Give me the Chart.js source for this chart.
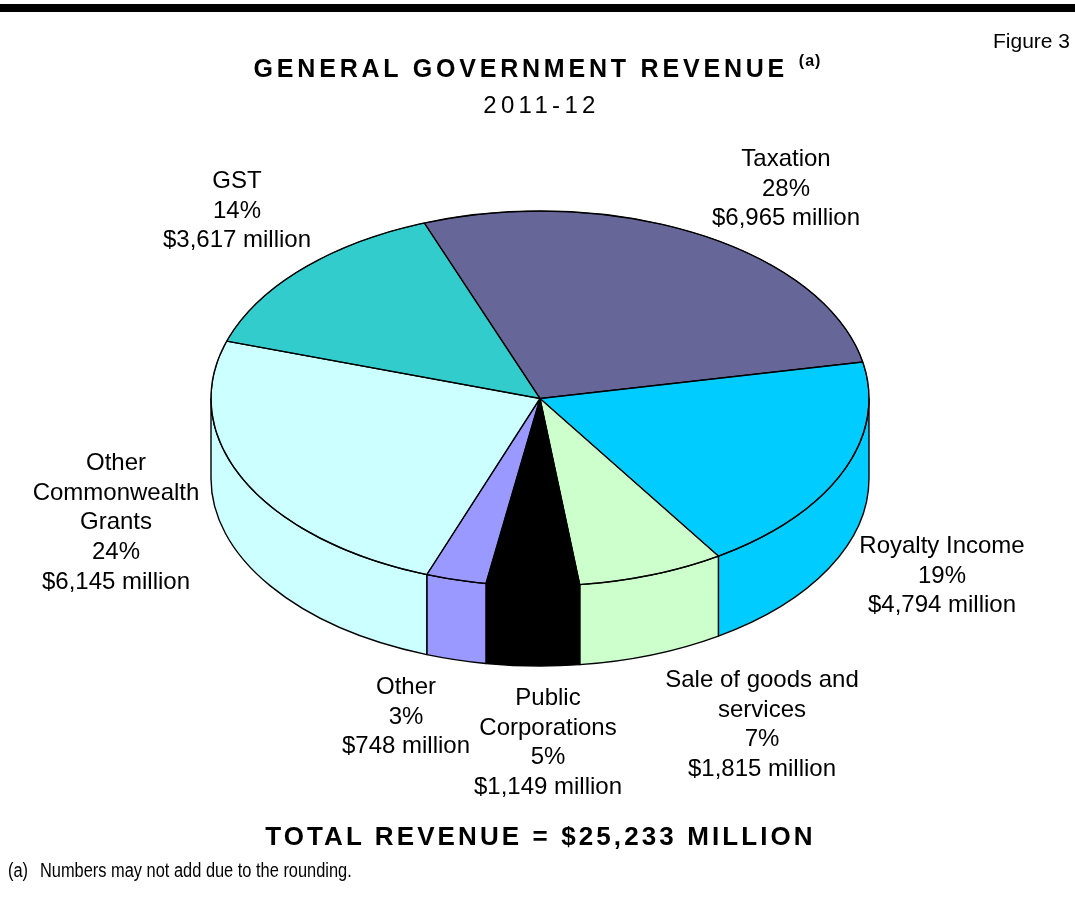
<!DOCTYPE html>
<html>
<head>
<meta charset="utf-8">
<title>General Government Revenue 2011-12</title>
<script src="https://cdn.jsdelivr.net/npm/chart.js@4.4.0/dist/chart.umd.min.js"></script>
<style>
    body { margin: 0; background: #fff; font-family: "Liberation Sans", Arial, sans-serif; color: #000; }
    #page { position: relative; width: 1075px; height: 897px; overflow: hidden; }
    #myChart { position: absolute; left: 0; top: 0; }
    .barra { position: absolute; left: 0; top: 4px; width: 1075px; height: 8px; background: #000; }
    .figura { position: absolute; right: 5px; top: 30px; font-size: 21px; line-height: 21px; }
    .titulo { position: absolute; left: 0; width: 1075px; text-align: center; white-space: nowrap; }
    .t1 { top: 56px; font-size: 25px; line-height: 25px; font-weight: bold; letter-spacing: 3.8px; }
    .t1 sup { font-size: 16px; letter-spacing: 1px; vertical-align: 11px; line-height: 0; }
    .t2 { top: 93px; font-size: 24px; line-height: 24px; letter-spacing: 4.3px; padding-left: 4px; }
    .total { top: 823px; font-size: 26px; line-height: 26px; font-weight: bold; letter-spacing: 3.1px; padding-left: 3px; }
    .nota { position: absolute; left: 8px; top: 860px; font-size: 20px; line-height: 20px; white-space: nowrap; transform: scaleX(0.82); transform-origin: 0 0; }
    .nota span { display: inline-block; width: 39px; }
</style>
</head>
<body>
<div id="page">
    <canvas id="myChart" width="1075" height="897"></canvas>
    <div class="barra"></div>
    <div class="figura">Figure 3</div>
    <div class="titulo t1">GENERAL GOVERNMENT REVENUE <sup>(a)</sup></div>
    <div class="titulo t2">2011-12</div>
    <div class="titulo total">TOTAL REVENUE = $25,233 MILLION</div>
    <div class="nota"><span>(a)</span>Numbers may not add due to the rounding.</div>
</div>
<script>
// revenue by source, $ million
var categories = ['Taxation', 'Royalty Income', 'Sale of goods and services', 'Public Corporations', 'Other', 'Other Commonwealth Grants', 'GST'];
var labelLines = [['Taxation'], ['Royalty Income'], ['Sale of goods and', 'services'], ['Public', 'Corporations'], ['Other'], ['Other', 'Commonwealth', 'Grants'], ['GST']];
var values = [6965, 4794, 1815, 1149, 748, 6145, 3617];
var colours = ['#666699', '#00CCFF', '#CCFFCC', '#000000', '#9999FF', '#CCFFFF', '#33CCCC'];

// where each label block sits: centre x, first baseline
var labelPos = [[786, 166], [942, 553], [762, 687], [548, 705], [406, 694], [116, 470], [237, 188]];

var TILT = 0.57;     // vertical squash of the top face
var DEPTH = 80;      // height of the pie wall
var LINE_H = 29.7;

var total = values.reduce(function (a, b) { return a + b; }, 0);

var money = function (v) {
    return '$' + v.toLocaleString('en-US') + ' million';
}

// draws the wall under the front of the pie and squashes the top face
var pie3d = {
    id: 'pie3d',
    beforeDatasetsDraw: function (chart) {
        var ctx = chart.ctx;
        var arcs = chart.getDatasetMeta(0).data;
        var cx = arcs[0].x, cy = arcs[0].y, r = arcs[0].outerRadius;
        var ry = r * TILT;
        ctx.save();
        ctx.lineWidth = 1.4;
        ctx.strokeStyle = '#000';
        ctx.lineJoin = 'round';
        arcs.forEach(function (arc) {
            var a0 = Math.max(arc.startAngle, 0);
            var a1 = Math.min(arc.endAngle, Math.PI);
            if (a1 <= a0) return;
            ctx.beginPath();
            ctx.ellipse(cx, cy, r, ry, 0, a0, a1);
            ctx.lineTo(cx + r * Math.cos(a1), cy + ry * Math.sin(a1) + DEPTH);
            ctx.ellipse(cx, cy + DEPTH, r, ry, 0, a1, a0, true);
            ctx.closePath();
            ctx.fillStyle = arc.options.backgroundColor;
            ctx.fill();
            ctx.stroke();
        });
        ctx.restore();

        ctx.save();
        ctx.translate(cx, cy);
        ctx.scale(1, TILT);
        ctx.translate(-cx, -cy);
    },
    afterDatasetsDraw: function (chart) {
        var ctx = chart.ctx;
        ctx.restore();

        var arcs = chart.getDatasetMeta(0).data;
        var cx = arcs[0].x, cy = arcs[0].y, r = arcs[0].outerRadius;
        var ry = r * TILT;

        // outline of the top face at an even width
        ctx.save();
        ctx.lineWidth = 1.4;
        ctx.strokeStyle = '#000';
        ctx.beginPath();
        ctx.ellipse(cx, cy, r, ry, 0, 0, Math.PI * 2);
        arcs.forEach(function (arc) {
            ctx.moveTo(cx, cy);
            ctx.lineTo(cx + r * Math.cos(arc.startAngle), cy + ry * Math.sin(arc.startAngle));
        });
        ctx.stroke();

        // slice labels
        ctx.fillStyle = '#000';
        ctx.font = '24px "Liberation Sans", Arial, sans-serif';
        ctx.textAlign = 'center';
        ctx.textBaseline = 'alphabetic';
        values.forEach(function (v, i) {
            var lines = labelLines[i].concat([Math.round(v / total * 100) + '%', money(v)]);
            var x = labelPos[i][0], y = labelPos[i][1];
            lines.forEach(function (t, j) {
                ctx.fillText(t, x, y + j * LINE_H);
            });
        });
        ctx.restore();
    }
};

var myChart = new Chart(document.getElementById('myChart'), {
    type: 'pie',
    data: {
        labels: categories,
        datasets: [{
            data: values,
            backgroundColor: colours,
            borderColor: '#000',
            borderWidth: 1,
            rotation: -20.6,
            radius: 329
        }]
    },
    plugins: [pie3d],
    options: {
        responsive: false,
        animation: false,
        events: [],
        layout: { padding: { left: 211, right: 206, top: 69.5, bottom: 169.5 } },
        plugins: {
            legend: { display: false },
            tooltip: { enabled: false },
            title: { display: false }
        }
    }
});
</script>
</body>
</html>
